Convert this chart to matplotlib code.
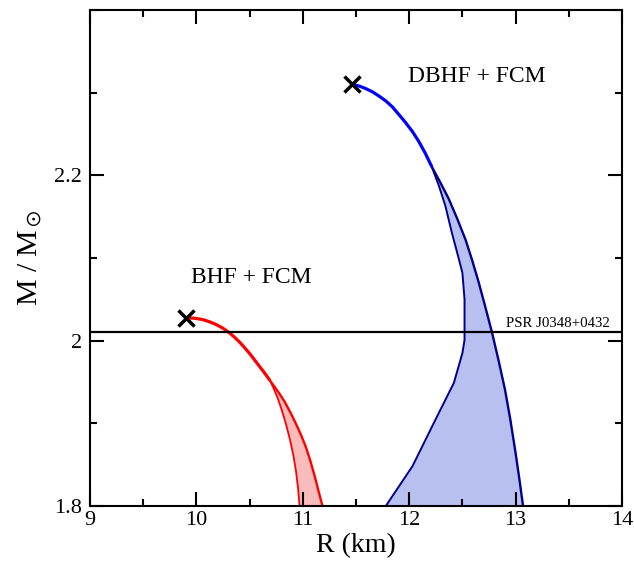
import matplotlib
matplotlib.use('Agg')
import matplotlib.pyplot as plt
import numpy as np

# BHF + FCM (rojo)
r_bhf = [9.905, 9.98, 10.06, 10.12, 10.186, 10.25, 10.31, 10.36, 10.404,
         10.45, 10.50, 10.545, 10.592, 10.64, 10.685]
m_bhf = [2.0275, 2.0272, 2.0255, 2.0230, 2.0195, 2.0150, 2.0095, 2.0040,
         1.9985, 1.9920, 1.9845, 1.9770, 1.9690, 1.9610, 1.9530]
r_bhf_izq = [10.685, 10.72, 10.76, 10.80, 10.84, 10.88, 10.91, 10.935, 10.955, 10.97]
m_bhf_izq = [1.953, 1.944, 1.932, 1.917, 1.900, 1.880, 1.862, 1.843, 1.822, 1.80]
r_bhf_der = [10.685, 10.73, 10.78, 10.83, 10.88, 10.93, 10.98, 11.03, 11.07,
             11.11, 11.15, 11.185]
m_bhf_der = [1.953, 1.945, 1.936, 1.926, 1.914, 1.901, 1.887, 1.871, 1.855,
             1.837, 1.817, 1.80]

# DBHF + FCM (azul)
r_dbhf = [11.465, 11.53, 11.59, 11.655, 11.715, 11.78, 11.84, 11.90, 11.965,
          12.03, 12.09, 12.15, 12.21]
m_dbhf = [2.310, 2.308, 2.305, 2.301, 2.296, 2.290, 2.283, 2.274, 2.264,
          2.253, 2.241, 2.227, 2.211]
r_dbhf_izq = [12.21, 12.28, 12.34, 12.40, 12.46, 12.50, 12.52, 12.52,
              12.50, 12.42, 12.245, 12.03, 11.78]
m_dbhf_izq = [2.211, 2.187, 2.163, 2.131, 2.102, 2.082, 2.050, 2.001,
              1.985, 1.949, 1.904, 1.848, 1.80]
r_dbhf_der = [12.21, 12.29, 12.37, 12.45, 12.53, 12.59, 12.65, 12.715, 12.78,
              12.84, 12.90, 12.95, 13.0, 13.035, 13.07]
m_dbhf_der = [2.211, 2.192, 2.172, 2.148, 2.122, 2.098, 2.072, 2.041, 2.009,
              1.976, 1.941, 1.905, 1.864, 1.833, 1.80]

m_psr = 2.01

plt.rcParams['font.family'] = ['Liberation Serif', 'DejaVu Serif']
plt.rcParams['mathtext.fontset'] = 'stix'

fig = plt.figure(figsize=(6.34, 5.63), dpi=100)
ax = fig.add_axes([90/634, 1 - 506/563, 532/634, 496/563])

# bandas
ax.fill(np.concatenate([r_bhf_izq, r_bhf_der[::-1]]),
        np.concatenate([m_bhf_izq, m_bhf_der[::-1]]),
        color='#f8bcbc', lw=0)
ax.fill(np.concatenate([r_dbhf_izq, r_dbhf_der[::-1]]),
        np.concatenate([m_dbhf_izq, m_dbhf_der[::-1]]),
        color='#b8c0ef', lw=0)

ax.plot(r_bhf_izq, m_bhf_izq, color='red', lw=1.3)
ax.plot(r_bhf_der, m_bhf_der, color='red', lw=1.7)
ax.plot(r_bhf, m_bhf, color='red', lw=2.3, solid_capstyle='round')

ax.plot(r_dbhf_izq, m_dbhf_izq, color='#000090', lw=1.4)
ax.plot(r_dbhf_der, m_dbhf_der, color='#000090', lw=1.7)
ax.plot(r_dbhf, m_dbhf, color='blue', lw=2.3, solid_capstyle='round')

ax.axhline(m_psr, color='black', lw=1.6)

ax.plot([r_bhf[0]], [m_bhf[0]], marker='x', color='black', ms=11, mew=2.5)
ax.plot([r_dbhf[0]], [m_dbhf[0]], marker='x', color='black', ms=11, mew=2.5)

ax.text(10.517, 2.076, 'BHF + FCM', fontsize=17, ha='center', va='center')
ax.text(12.633, 2.319, 'DBHF + FCM', fontsize=17, ha='center', va='center')
ax.text(13.89, 2.017, 'PSR J0348+0432', fontsize=10.7, ha='right', va='baseline')

ax.set_xlim(9, 14)
ax.set_ylim(1.8, 2.4)
ax.set_xticks([9, 10, 11, 12, 13, 14])
ax.set_xticks(np.arange(9.5, 14, 1), minor=True)
ax.set_yticks([1.8, 2.0, 2.2])
ax.set_yticklabels(['1.8', '2', '2.2'])
ax.set_yticks([1.9, 2.1, 2.3, 2.4], minor=True)
ax.tick_params(which='both', direction='in', top=True, right=True, width=1.5,
               labelsize=16)
ax.tick_params(which='major', length=10)
ax.tick_params(axis='y', which='major', pad=6)
ax.tick_params(which='minor', length=5)
for s in ax.spines.values():
    s.set_linewidth(1.5)

ax.set_xlabel('R (km)', fontsize=20, labelpad=2)
ax.set_ylabel(r'M / M$_\odot$', fontsize=21.5, labelpad=6)

fig.savefig('out.png', dpi=100)
